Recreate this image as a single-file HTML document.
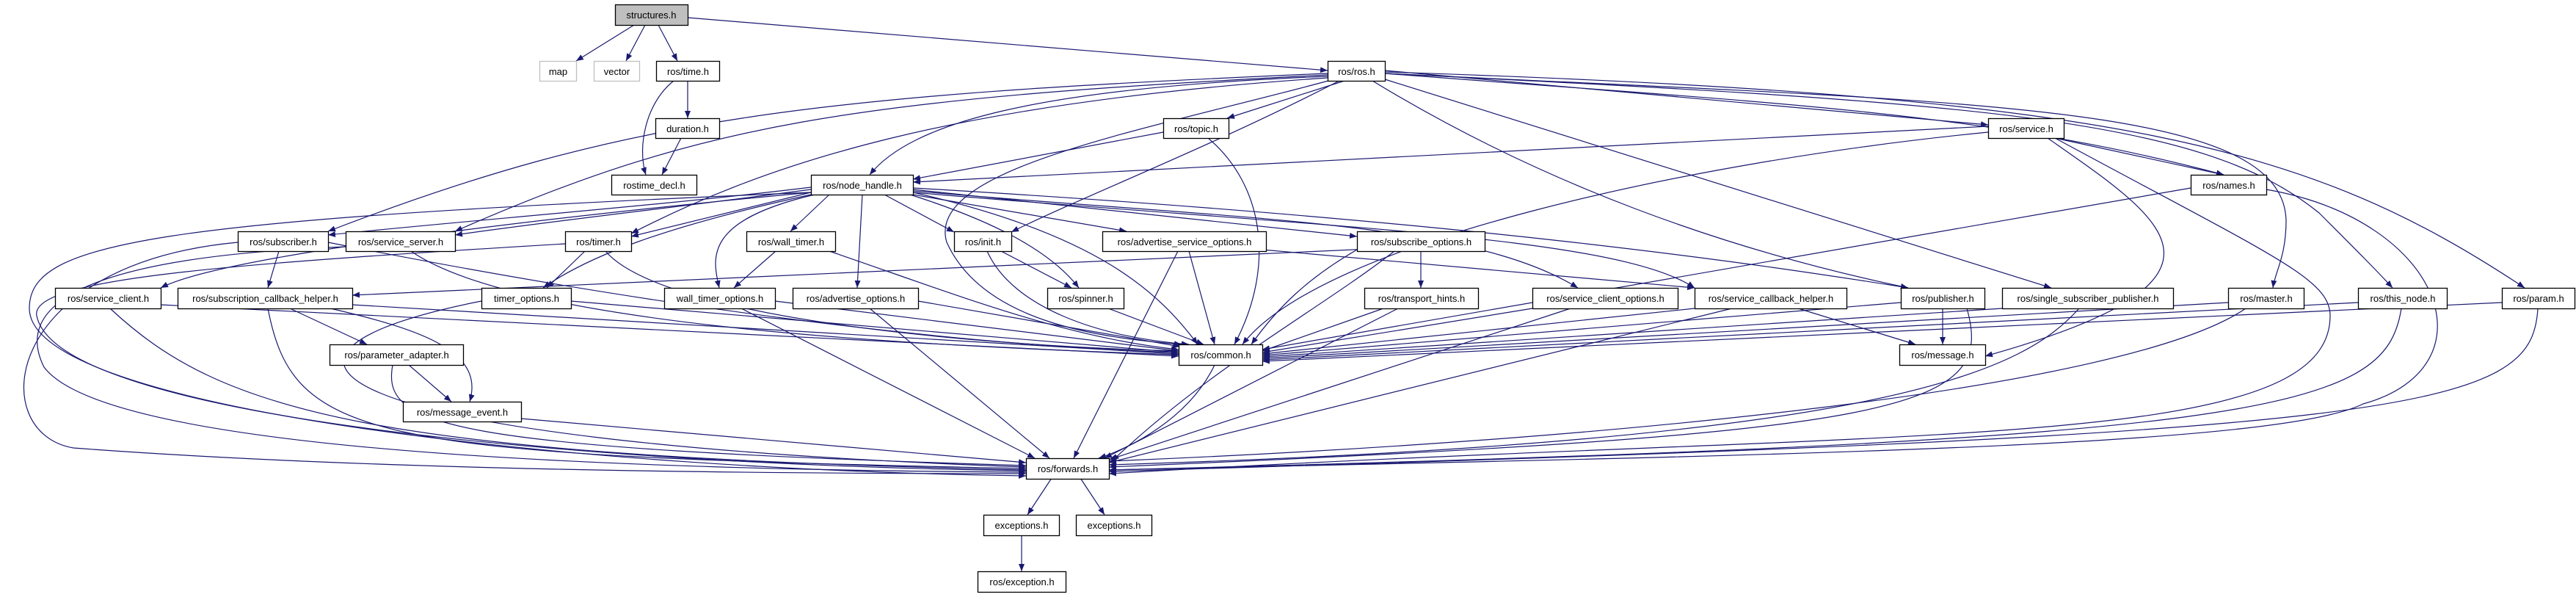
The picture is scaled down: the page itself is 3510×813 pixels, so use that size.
<!DOCTYPE html>
<html><head><meta charset="utf-8"><style>
html,body{margin:0;padding:0;background:#fff;}
svg{display:block;}
text{font-family:"Liberation Sans",sans-serif;font-size:13px;fill:#000;}
.n{fill:#fff;stroke:#000;stroke-width:1.3;}
.e{fill:none;stroke:#191970;stroke-width:1.2;marker-end:url(#a);}
</style></head><body>
<svg width="3510" height="813" viewBox="0 0 3510 813" xmlns="http://www.w3.org/2000/svg">
<defs><marker id="a" viewBox="0 0 10 8" refX="10" refY="4" markerWidth="10" markerHeight="8" markerUnits="userSpaceOnUse" orient="auto"><path d="M0,0 L10,4 L0,8 z" fill="#191970"/></marker></defs>
<g>
<path class="e" d="M864,34 L785,83"/>
<path class="e" d="M879,34 L853,83"/>
<path class="e" d="M897,34 L923,83"/>
<path class="e" d="M937,24 L1809,96"/>
<path class="e" d="M937,110 L937,161"/>
<path class="e" d="M918,110 C880,140 868,200 880,238"/>
<path class="e" d="M928,188 L902,238"/>
<path class="e" d="M1809,104 C1400,120 1240,170 1185,238"/>
<path class="e" d="M1832,110 L1672,161"/>
<path class="e" d="M1887,96 L2709,170"/>
<path class="e" d="M1887,100 C2400,140 2700,150 3030,238"/>
<path class="e" d="M1825,110 C1650,200 1470,270 1378,316"/>
<path class="e" d="M1810,110 C1550,180 1260,230 1290,330 C1340,440 1500,460 1610,469"/>
<path class="e" d="M1870,110 C2100,250 2350,340 2600,392"/>
<path class="e" d="M1887,108 L2795,392"/>
<path class="e" d="M1887,100 C2700,140 3110,140 3115,300 C3115,350 3100,370 3097,392"/>
<path class="e" d="M1887,100 C2700,140 3000,160 3160,290 C3210,340 3240,370 3260,392"/>
<path class="e" d="M1887,98 C2900,130 3150,200 3440,392"/>
<path class="e" d="M1809,100 C1100,130 850,160 447,315"/>
<path class="e" d="M1809,102 C1150,135 950,170 620,315"/>
<path class="e" d="M1809,106 C1300,140 1050,220 860,318"/>
<path class="e" d="M2709,172 L1244,248"/>
<path class="e" d="M1585,180 L1244,244"/>
<path class="e" d="M2800,188 L3030,238"/>
<path class="e" d="M2790,188 C2950,300 3080,380 2705,485"/>
<path class="e" d="M1105,255 C900,280 640,300 447,320"/>
<path class="e" d="M1105,258 C900,285 760,300 620,320"/>
<path class="e" d="M1105,262 L860,322"/>
<path class="e" d="M1130,265 L1077,315"/>
<path class="e" d="M1205,265 L1300,316"/>
<path class="e" d="M1240,265 C1350,300 1430,340 1470,392"/>
<path class="e" d="M1175,265 L1168,392"/>
<path class="e" d="M1244,265 L1535,315"/>
<path class="e" d="M1244,258 L1849,322"/>
<path class="e" d="M1244,260 C1700,300 2000,300 2150,392"/>
<path class="e" d="M1244,262 C1800,310 2200,320 2309,392"/>
<path class="e" d="M1244,256 C2000,300 2400,360 2600,392"/>
<path class="e" d="M1105,262 C700,300 300,350 219,392"/>
<path class="e" d="M1105,265 C900,310 800,350 740,392"/>
<path class="e" d="M1110,265 C960,300 970,350 980,392"/>
<path class="e" d="M2020,332 C1300,360 700,390 480,402"/>
<path class="e" d="M1720,340 L2309,392"/>
<path class="e" d="M380,342 L365,392"/>
<path class="e" d="M797,342 L745,392"/>
<path class="e" d="M1057,342 L1000,392"/>
<path class="e" d="M1364,342 L1460,392"/>
<path class="e" d="M1936,342 L1936,392"/>
<path class="e" d="M2647,420 L2647,469"/>
<path class="e" d="M2450,420 L2610,469"/>
<path class="e" d="M395,420 L500,469"/>
<path class="e" d="M450,420 C580,450 660,480 640,547"/>
<path class="e" d="M557,497 L615,547"/>
<path class="e" d="M447,330 C900,420 1300,470 1606,480"/>
<path class="e" d="M560,342 C700,440 1200,470 1606,483"/>
<path class="e" d="M825,342 C900,430 1300,470 1606,478"/>
<path class="e" d="M778,410 L1606,480"/>
<path class="e" d="M219,415 L1606,485"/>
<path class="e" d="M480,415 L1606,482"/>
<path class="e" d="M1056,410 L1606,478"/>
<path class="e" d="M1251,410 L1608,472"/>
<path class="e" d="M1130,342 C1300,400 1450,460 1606,476"/>
<path class="e" d="M1345,342 C1380,420 1500,460 1620,469"/>
<path class="e" d="M1244,262 C1500,320 1580,400 1632,469"/>
<path class="e" d="M1510,420 L1640,469"/>
<path class="e" d="M1620,342 L1655,469"/>
<path class="e" d="M1646,188 C1720,250 1740,360 1682,469"/>
<path class="e" d="M2709,180 C2300,220 1800,330 1693,469"/>
<path class="e" d="M1849,340 C1780,380 1740,420 1705,469"/>
<path class="e" d="M1885,420 L1720,478"/>
<path class="e" d="M2088,420 L1720,480"/>
<path class="e" d="M2309,420 L1720,482"/>
<path class="e" d="M2590,412 L1720,484"/>
<path class="e" d="M2728,420 L1720,486"/>
<path class="e" d="M3036,412 L1720,488"/>
<path class="e" d="M3213,412 L1720,490"/>
<path class="e" d="M3409,412 L1720,492"/>
<path class="e" d="M2985,256 L1720,476"/>
<path class="e" d="M324,330 C0,360 -20,590 100,610 C500,640 1000,645 1398,645"/>
<path class="e" d="M471,336 C100,350 20,420 60,500 C150,620 900,640 1398,643"/>
<path class="e" d="M770,332 C300,360 40,380 50,430 C80,580 900,635 1398,641"/>
<path class="e" d="M150,420 C300,560 500,620 1398,640"/>
<path class="e" d="M365,420 C400,600 500,620 1398,638"/>
<path class="e" d="M656,410 C300,480 400,600 1398,636"/>
<path class="e" d="M535,497 C520,580 600,610 1398,634"/>
<path class="e" d="M710,570 L1398,630"/>
<path class="e" d="M1105,262 C200,300 40,330 40,420 C40,560 800,640 1398,648"/>
<path class="e" d="M1010,420 L1410,624"/>
<path class="e" d="M1185,420 L1430,624"/>
<path class="e" d="M1605,342 L1463,624"/>
<path class="e" d="M1655,497 C1620,570 1540,610 1497,624"/>
<path class="e" d="M3088,258 C3330,300 3400,500 3220,550 C3100,610 2400,620 1511,640"/>
<path class="e" d="M2800,188 C3100,350 3175,380 3175,430 C3175,620 2600,580 1511,645"/>
<path class="e" d="M2680,420 C2720,560 2600,590 1511,636"/>
<path class="e" d="M2833,420 C2760,500 2600,600 1511,633"/>
<path class="e" d="M3060,420 C2900,530 2200,600 1511,628"/>
<path class="e" d="M3272,420 C3250,560 3100,600 1511,640"/>
<path class="e" d="M3458,420 C3450,560 3300,590 1511,642"/>
<path class="e" d="M2140,420 L1511,626"/>
<path class="e" d="M2360,420 L1511,630"/>
<path class="e" d="M1905,420 L1505,624"/>
<path class="e" d="M1900,342 C1800,420 1650,500 1515,628"/>
<path class="e" d="M1433,651 L1400,701"/>
<path class="e" d="M1472,651 L1505,701"/>
<path class="e" d="M1392,729 L1392,778"/>
</g>
<g>
<rect x="838.5" y="6.5" width="99" height="28" fill="#bfbfbf" stroke="#000" stroke-width="1.3"/><text x="887.5" y="25" text-anchor="middle">structures.h</text>
<rect x="735.5" y="83.5" width="50" height="27" fill="#fff" stroke="#bfbfbf" stroke-width="1.3"/><text x="760.5" y="102" text-anchor="middle">map</text>
<rect x="809.5" y="83.5" width="62" height="27" fill="#fff" stroke="#bfbfbf" stroke-width="1.3"/><text x="840.5" y="102" text-anchor="middle">vector</text>
<rect class="n" x="894.5" y="83.5" width="86" height="27"/><text x="937.5" y="102" text-anchor="middle">ros/time.h</text>
<rect class="n" x="1809.5" y="83.5" width="78" height="27"/><text x="1848.5" y="102" text-anchor="middle">ros/ros.h</text>
<rect class="n" x="893.5" y="161.5" width="87" height="27"/><text x="937" y="180" text-anchor="middle">duration.h</text>
<rect class="n" x="1585.5" y="161.5" width="89" height="27"/><text x="1630" y="180" text-anchor="middle">ros/topic.h</text>
<rect class="n" x="2709.5" y="161.5" width="103" height="27"/><text x="2761" y="180" text-anchor="middle">ros/service.h</text>
<rect class="n" x="833.5" y="238.5" width="116" height="27"/><text x="891.5" y="257" text-anchor="middle">rostime_decl.h</text>
<rect class="n" x="1105.5" y="238.5" width="139" height="27"/><text x="1175" y="257" text-anchor="middle">ros/node_handle.h</text>
<rect class="n" x="2985.5" y="238.5" width="103" height="27"/><text x="3037" y="257" text-anchor="middle">ros/names.h</text>
<rect class="n" x="324.5" y="315.5" width="123" height="27"/><text x="386" y="334" text-anchor="middle">ros/subscriber.h</text>
<rect class="n" x="471.5" y="315.5" width="149" height="27"/><text x="546" y="334" text-anchor="middle">ros/service_server.h</text>
<rect class="n" x="770.5" y="315.5" width="90" height="27"/><text x="815.5" y="334" text-anchor="middle">ros/timer.h</text>
<rect class="n" x="1017.5" y="315.5" width="121" height="27"/><text x="1078" y="334" text-anchor="middle">ros/wall_timer.h</text>
<rect class="n" x="1300.5" y="315.5" width="78" height="27"/><text x="1339.5" y="334" text-anchor="middle">ros/init.h</text>
<rect class="n" x="1502.5" y="315.5" width="223" height="27"/><text x="1614" y="334" text-anchor="middle">ros/advertise_service_options.h</text>
<rect class="n" x="1849.5" y="315.5" width="174" height="27"/><text x="1936.5" y="334" text-anchor="middle">ros/subscribe_options.h</text>
<rect class="n" x="75.5" y="392.5" width="144" height="28"/><text x="147.5" y="411" text-anchor="middle">ros/service_client.h</text>
<rect class="n" x="242.5" y="392.5" width="238" height="28"/><text x="361.5" y="411" text-anchor="middle">ros/subscription_callback_helper.h</text>
<rect class="n" x="656.5" y="392.5" width="122" height="28"/><text x="717.5" y="411" text-anchor="middle">timer_options.h</text>
<rect class="n" x="905.5" y="392.5" width="151" height="28"/><text x="981" y="411" text-anchor="middle">wall_timer_options.h</text>
<rect class="n" x="1080.5" y="392.5" width="171" height="28"/><text x="1166" y="411" text-anchor="middle">ros/advertise_options.h</text>
<rect class="n" x="1427.5" y="392.5" width="104" height="28"/><text x="1479.5" y="411" text-anchor="middle">ros/spinner.h</text>
<rect class="n" x="1859.5" y="392.5" width="155" height="28"/><text x="1937" y="411" text-anchor="middle">ros/transport_hints.h</text>
<rect class="n" x="2088.5" y="392.5" width="198" height="28"/><text x="2187.5" y="411" text-anchor="middle">ros/service_client_options.h</text>
<rect class="n" x="2309.5" y="392.5" width="207" height="28"/><text x="2413" y="411" text-anchor="middle">ros/service_callback_helper.h</text>
<rect class="n" x="2590.5" y="392.5" width="114" height="28"/><text x="2647.5" y="411" text-anchor="middle">ros/publisher.h</text>
<rect class="n" x="2728.5" y="392.5" width="233" height="28"/><text x="2845" y="411" text-anchor="middle">ros/single_subscriber_publisher.h</text>
<rect class="n" x="3036.5" y="392.5" width="103" height="28"/><text x="3088" y="411" text-anchor="middle">ros/master.h</text>
<rect class="n" x="3213.5" y="392.5" width="121" height="28"/><text x="3274" y="411" text-anchor="middle">ros/this_node.h</text>
<rect class="n" x="3409.5" y="392.5" width="99" height="28"/><text x="3459" y="411" text-anchor="middle">ros/param.h</text>
<rect class="n" x="449.5" y="469.5" width="182" height="28"/><text x="540.5" y="488" text-anchor="middle">ros/parameter_adapter.h</text>
<rect class="n" x="1606.5" y="469.5" width="114" height="28"/><text x="1663.5" y="488" text-anchor="middle">ros/common.h</text>
<rect class="n" x="2588.5" y="469.5" width="117" height="28"/><text x="2647" y="488" text-anchor="middle">ros/message.h</text>
<rect class="n" x="549.5" y="547.5" width="161" height="27"/><text x="630" y="566" text-anchor="middle">ros/message_event.h</text>
<rect class="n" x="1398.5" y="624.5" width="113" height="28"/><text x="1455" y="643" text-anchor="middle">ros/forwards.h</text>
<rect class="n" x="1340.5" y="701.5" width="103" height="28"/><text x="1392" y="720" text-anchor="middle">exceptions.h</text>
<rect class="n" x="1466.5" y="701.5" width="103" height="28"/><text x="1518" y="720" text-anchor="middle">exceptions.h</text>
<rect class="n" x="1332.5" y="778.5" width="120" height="28"/><text x="1392.5" y="797" text-anchor="middle">ros/exception.h</text>
</g>
</svg>
</body></html>
